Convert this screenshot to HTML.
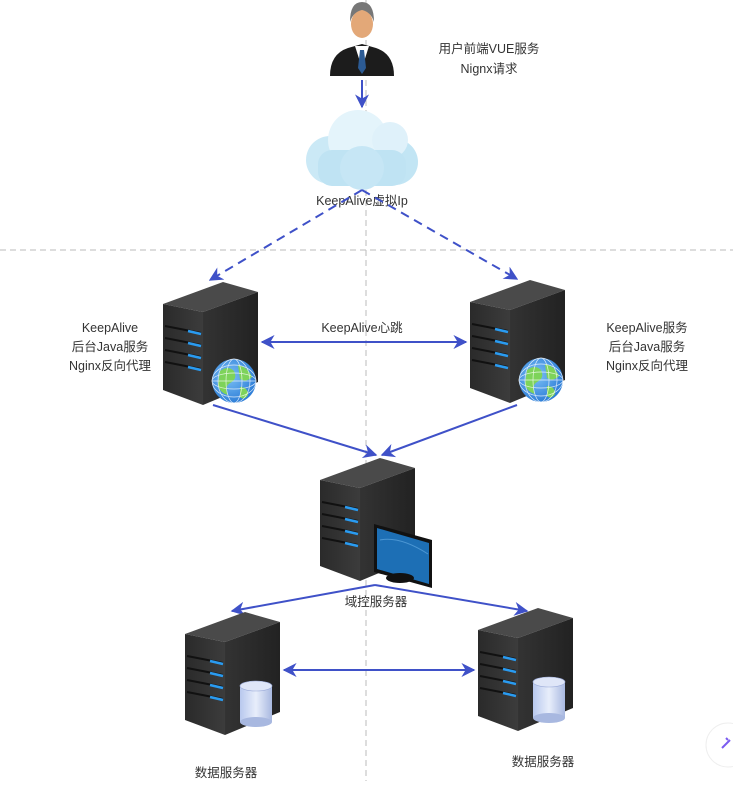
<!DOCTYPE html>
<html><head><meta charset="utf-8"><style>
body{margin:0;background:#fff;}
svg text{font-family:"Liberation Sans","Noto Sans CJK SC",sans-serif;font-size:12.5px;fill:#333;text-anchor:middle;}
</style></head><body>
<svg width="733" height="781" viewBox="0 0 733 781" xmlns="http://www.w3.org/2000/svg">
<defs>
<marker id="ah" viewBox="0 0 10 10" refX="9" refY="5" markerWidth="7" markerHeight="7" orient="auto-start-reverse"><path d="M0,0L10,5L0,10L3,5z" fill="#3f51c8"/></marker>
<linearGradient id="front" x1="0" x2="1"><stop offset="0" stop-color="#2a2a2a"/><stop offset="1" stop-color="#3c3c3c"/></linearGradient>
<linearGradient id="side" x1="0" x2="1"><stop offset="0" stop-color="#333"/><stop offset="1" stop-color="#222"/></linearGradient>
<linearGradient id="cloud" x1="0" y1="0" x2="0.3" y2="1"><stop offset="0" stop-color="#eef8fd"/><stop offset="1" stop-color="#a8d8ee"/></linearGradient>
<radialGradient id="globe" cx="0.4" cy="0.4" r="0.6"><stop offset="0" stop-color="#7cc0f5"/><stop offset="1" stop-color="#2f7fd8"/></radialGradient>
<linearGradient id="db" x1="0" x2="1"><stop offset="0" stop-color="#b8c8ee"/><stop offset="0.5" stop-color="#e8eefb"/><stop offset="1" stop-color="#a8b8e0"/></linearGradient>
<g id="srv">
<polygon points="0,22 60,0 95,10 40,30" fill="#4a4a4a"/>
<polygon points="0,22 40,30 40,123 0,108" fill="url(#front)"/>
<polygon points="40,30 95,10 95,100 40,123" fill="url(#side)"/>
<g stroke="#111" stroke-width="2"><line x1="2" y1="44" x2="38" y2="51"/><line x1="2" y1="56" x2="38" y2="63"/><line x1="2" y1="68" x2="38" y2="75"/><line x1="2" y1="80" x2="38" y2="87"/></g>
<g stroke="#2a9bf0" stroke-width="2.5"><line x1="25" y1="49" x2="38" y2="52"/><line x1="25" y1="61" x2="38" y2="64"/><line x1="25" y1="73" x2="38" y2="76"/><line x1="25" y1="85" x2="38" y2="88"/></g>
</g>
<g id="glb"><circle r="22" fill="url(#globe)"/><path d="M-14,-10 q8,-6 14,0 q4,8 -4,12 q-6,4 -2,12 q-8,-2 -10,-10 z M4,-16 q10,2 14,12 q-6,6 -12,2 z M6,6 q8,0 8,8 q-4,6 -8,2z" fill="#7ed35a"/><g fill="none" stroke="#fff" stroke-width="0.7" opacity="0.8"><ellipse rx="22" ry="8"/><ellipse rx="8" ry="22"/><ellipse rx="16" ry="22"/><line x1="-22" x2="22"/><ellipse rx="22" ry="16"/></g></g>
<g id="dbc"><rect x="-16" y="-18" width="32" height="36" fill="url(#db)"/><ellipse cy="18" rx="16" ry="5" fill="#a8b8e0"/><ellipse cy="-18" rx="16" ry="5" fill="#dfe6f8" stroke="#9aaad8" stroke-width="0.6"/></g>
</defs>
<line x1="0" y1="250" x2="733" y2="250" stroke="#bbb" stroke-dasharray="6,4"/>
<line x1="366" y1="0" x2="366" y2="781" stroke="#bbb" stroke-dasharray="6,4"/>
<g>
<path d="M330,76 q0,-22 18,-28 l14,-4 l14,4 q18,6 18,28 z" fill="#1c1c1c"/>
<polygon points="355,46 362,68 369,46" fill="#fff"/>
<polygon points="360,50 364,50 366,68 362,74 358,68" fill="#2c5b94"/>
<ellipse cx="362" cy="24" rx="11" ry="14" fill="#e3a878"/>
<path d="M350,22 q0,-20 12,-20 q12,0 12,20 q-3,-10 -12,-12 q-9,2 -12,12z" fill="#777"/>
</g>
<line x1="362" y1="80" x2="362" y2="107" stroke="#3f51c8" stroke-width="2" marker-end="url(#ah)"/>
<g fill="url(#cloud)">
<circle cx="330" cy="160" r="24" fill="#cbe9f6"/>
<circle cx="395" cy="162" r="23" fill="#c2e5f4"/>
<circle cx="358" cy="140" r="30" fill="#e4f4fb"/>
<circle cx="390" cy="140" r="18" fill="#dff1fa"/>
<rect x="318" y="150" width="88" height="36" rx="14" fill="#bfe3f3"/>
<circle cx="362" cy="168" r="22" fill="#c6e6f5"/>
</g>
<text x="362" y="205">KeepAlive虚拟Ip</text>
<text x="489" y="53">用户前端VUE服务</text>
<text x="489" y="73">Nignx请求</text>
<line x1="362" y1="190" x2="210" y2="280" stroke="#3f51c8" stroke-width="2" stroke-dasharray="9,6" marker-end="url(#ah)"/>
<line x1="362" y1="190" x2="517" y2="279" stroke="#3f51c8" stroke-width="2" stroke-dasharray="9,6" marker-end="url(#ah)"/>
<use href="#srv" x="163" y="282"/>
<use href="#glb" x="234" y="381"/>
<use href="#srv" x="470" y="280"/>
<use href="#glb" x="541" y="380"/>
<text x="110" y="332">KeepAlive</text>
<text x="110" y="351">后台Java服务</text>
<text x="110" y="370">Nginx反向代理</text>
<text x="647" y="332">KeepAlive服务</text>
<text x="647" y="351">后台Java服务</text>
<text x="647" y="370">Nginx反向代理</text>
<text x="362" y="332">KeepAlive心跳</text>
<line x1="262" y1="342" x2="466" y2="342" stroke="#3f51c8" stroke-width="2" marker-start="url(#ah)" marker-end="url(#ah)"/>
<line x1="213" y1="405" x2="376" y2="455" stroke="#3f51c8" stroke-width="2" marker-end="url(#ah)"/>
<line x1="517" y1="405" x2="382" y2="455" stroke="#3f51c8" stroke-width="2" marker-end="url(#ah)"/>
<use href="#srv" x="320" y="458"/>
<g>
<polygon points="374,524 432,540 432,588 374,572" fill="#111"/>
<polygon points="377,528 429,543 429,584 377,569" fill="#1d6fb5"/>
<path d="M380,540 q20,-4 48,14" stroke="#6ab0e8" fill="none" opacity="0.6"/>
<ellipse cx="400" cy="578" rx="14" ry="5" fill="#111"/>
</g>
<text x="376" y="606">域控服务器</text>
<line x1="375" y1="585" x2="232" y2="611" stroke="#3f51c8" stroke-width="2" marker-end="url(#ah)"/>
<line x1="375" y1="585" x2="527" y2="611" stroke="#3f51c8" stroke-width="2" marker-end="url(#ah)"/>
<use href="#srv" x="185" y="612"/>
<use href="#dbc" x="256" y="704"/>
<use href="#srv" x="478" y="608"/>
<use href="#dbc" x="549" y="700"/>
<line x1="284" y1="670" x2="474" y2="670" stroke="#3f51c8" stroke-width="2" marker-start="url(#ah)" marker-end="url(#ah)"/>
<text x="226" y="777">数据服务器</text>
<text x="543" y="766">数据服务器</text>
<circle cx="728" cy="745" r="22" fill="#fff" stroke="#eee"/>
<path d="M722,748 l8,-8 M726,738 l2,2" stroke="#7b5cf0" stroke-width="2"/>
</svg>
</body></html>
